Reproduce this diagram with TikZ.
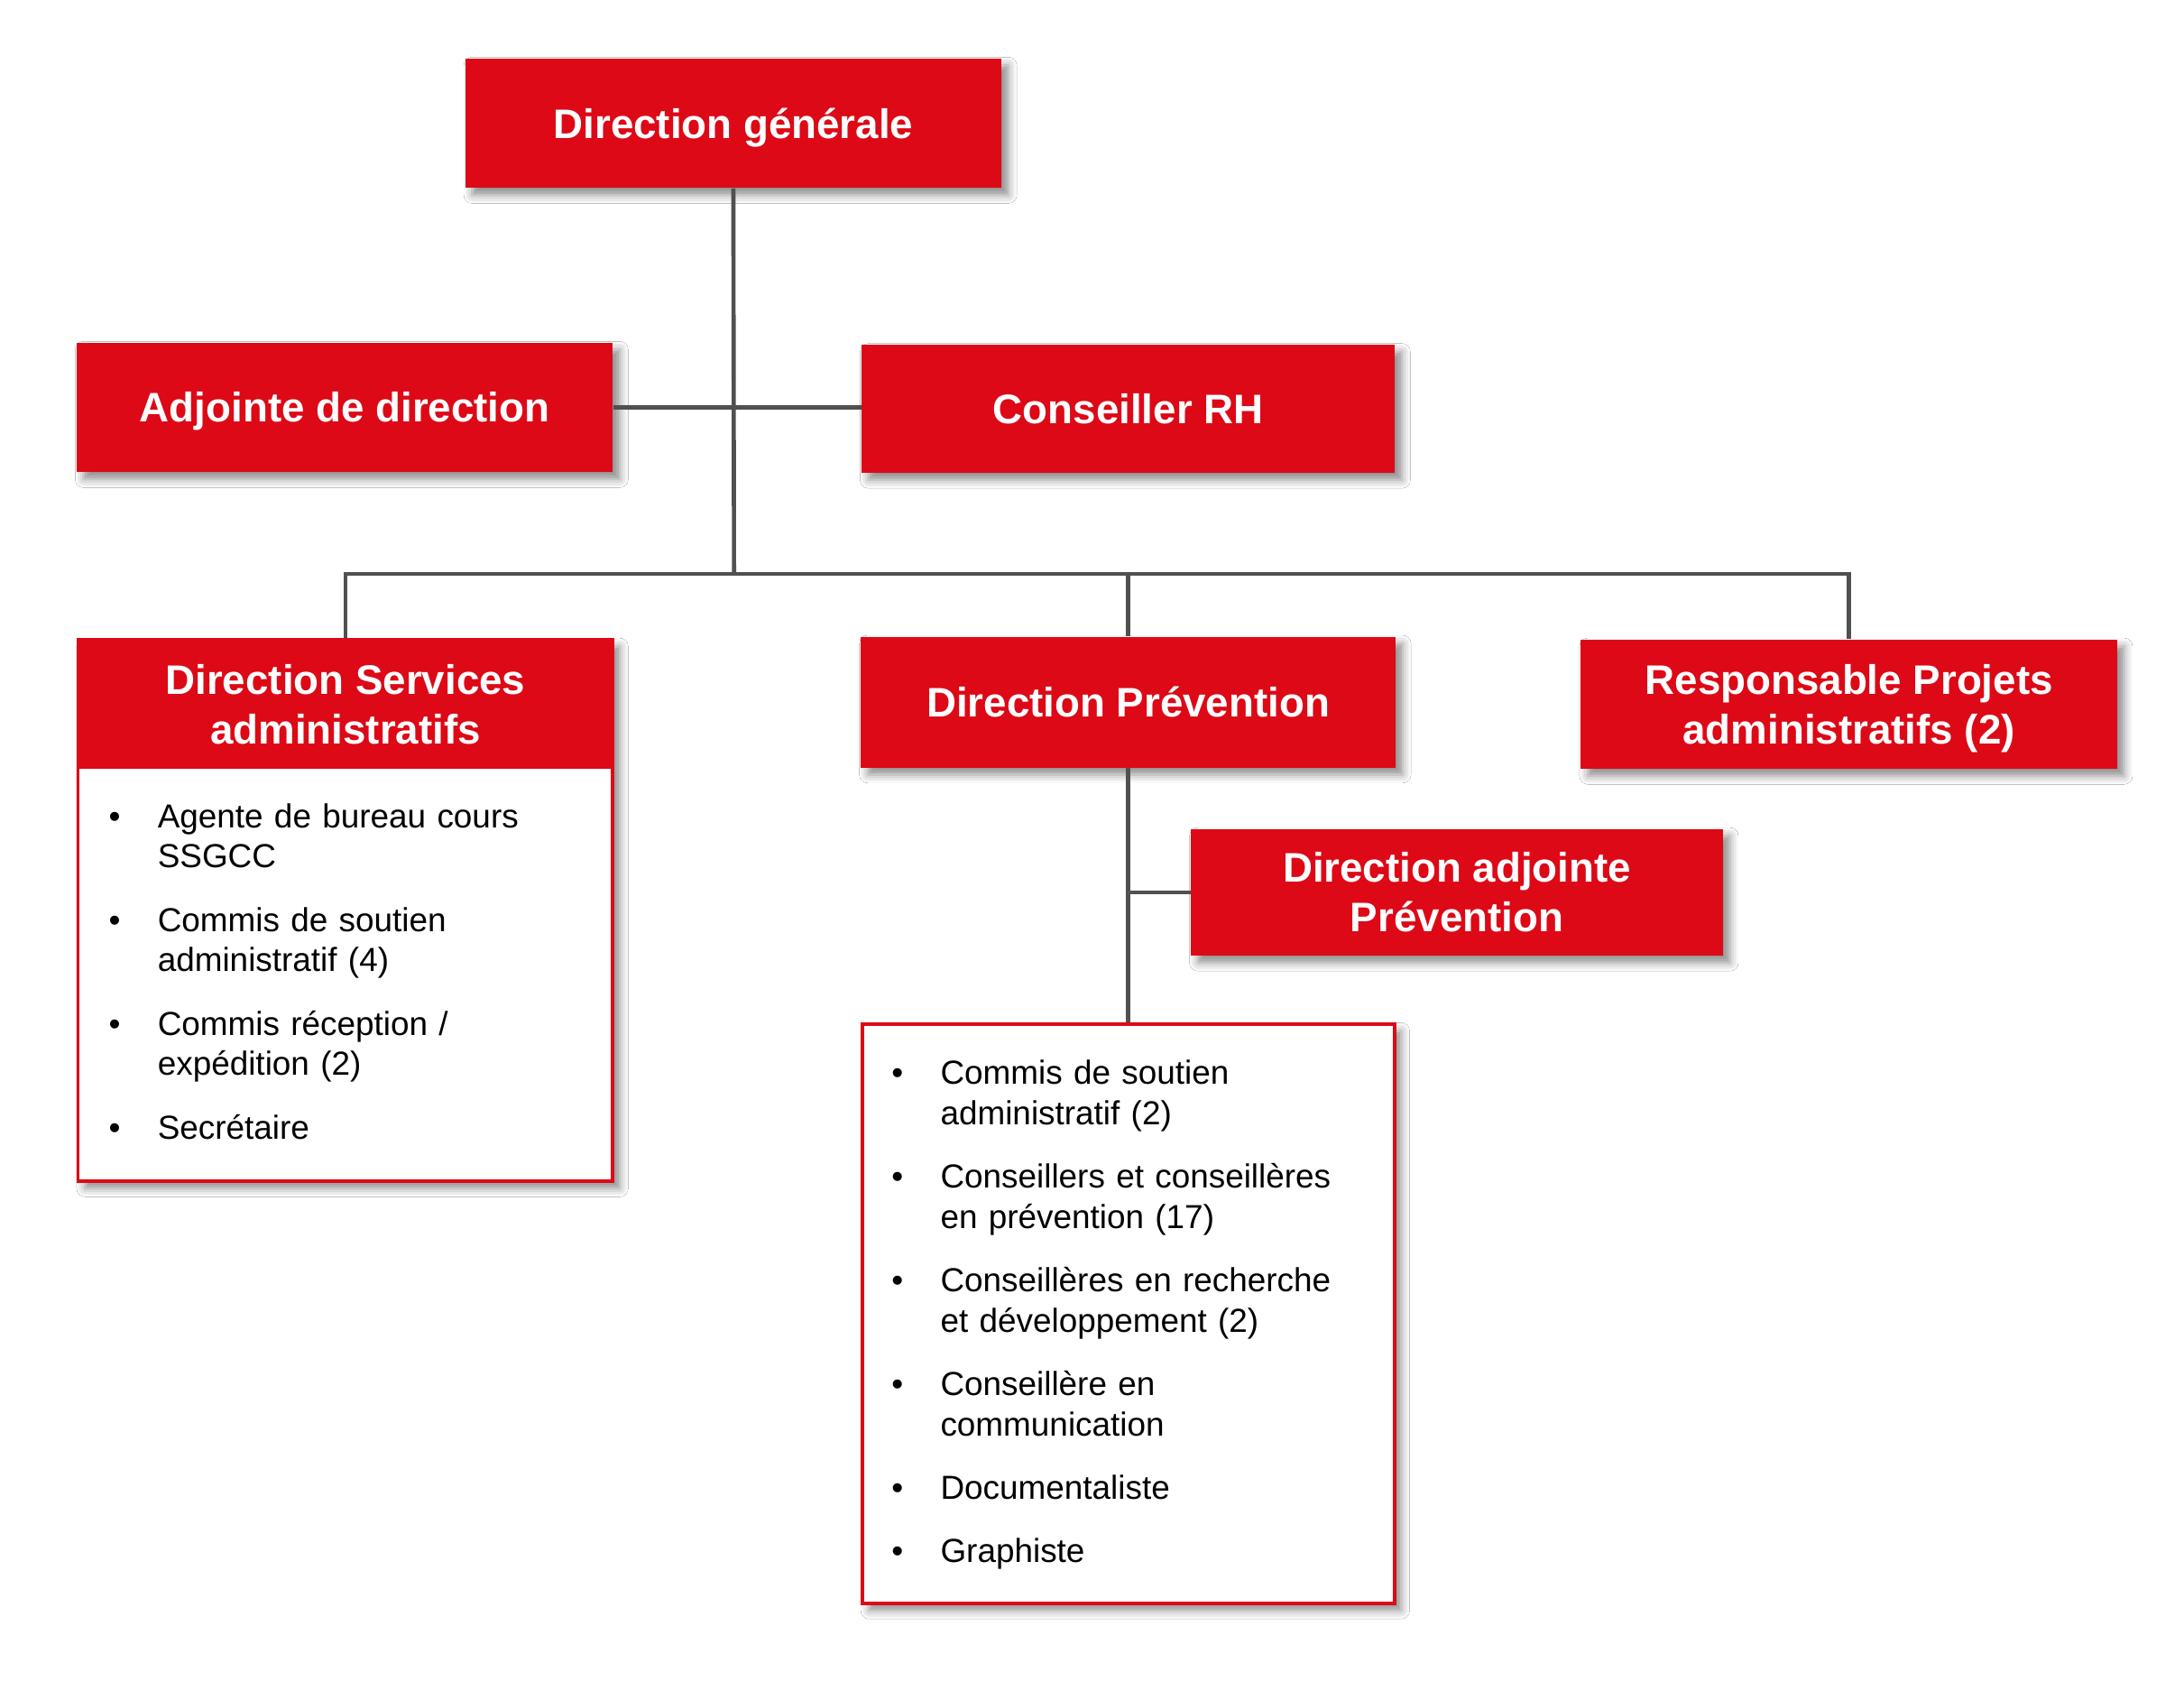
\documentclass[tikz,border=0pt]{standalone}
\usepackage{fontspec}
\setmainfont{Liberation Sans}
\usetikzlibrary{shadows,shadows.blur}
\definecolor{cred}{RGB}{221,9,22}
\definecolor{cline}{RGB}{80,80,82}
\newcommand\hdfont{\fontsize{29.6}{35.5}\selectfont\bfseries}
\newcommand\lsfont{\fontsize{23.9}{29}\selectfont}
\newcommand\hs{\rule[-0.234em]{0pt}{1.184em}}
\newcommand\itm[1]{\noindent\hangindent=32pt\hangafter=1\makebox[32pt][l]{\hspace{-3pt}\textbullet}#1\par}
\tikzset{
  shad/.style={blur shadow={shadow xshift=5pt, shadow yshift=-5pt, shadow blur radius=6pt, shadow opacity=45}},
  hbox/.style={fill=cred, text=white, font=\hdfont, align=center, inner sep=0pt, minimum width=385pt, minimum height=93pt},
  lbox/.style={fill=white, draw=cred, line width=2.5pt, inner sep=0pt},
  ltext/.style={font=\lsfont, text=black, align=left, inner sep=0pt, text width=360pt},
  conn/.style={draw=cline, line width=3pt},
}
\begin{document}
\begin{tikzpicture}[x=1pt,y=-1pt]
\useasboundingbox[fill=white] (0,0) rectangle (1568,1220.2);
\coordinate (j) at (527,412);
\node[hbox, shad] (dg) at (526.5,88.5) {\hs Direction générale};
\node[hbox, shad] (ad) at (247.5,292.5) {\hs Adjointe de direction};
\node[hbox, shad, minimum width=383pt, minimum height=92pt] (crh) at (810,293.5) {\hs Conseiller RH};
% services administratifs
\node[lbox, shad, minimum width=384pt, minimum height=389pt] (sabox) at (248,653.5) {};
\node[hbox, minimum width=384pt] (dsa) at (248,505.5) {\hs Direction Services\\\hs administratifs};
\node[hbox, shad, minimum width=384pt, minimum height=94pt] (dp) at (810,504) {\hs Direction Prévention};
\node[hbox, shad] (rpa) at (1327.5,505.5) {\hs Responsable Projets\\\hs administratifs (2)};
\node[hbox, shad, minimum width=382pt, minimum height=91pt] (dap) at (1046,640.5) {\hs Direction adjointe\\\hs Prévention};
\node[lbox, shad, minimum width=382pt, minimum height=416pt] (plist) at (810,943) {};
% lists
\node[ltext, anchor=base west] (salist) at (81,594) {\setlength\parskip{16.5pt}%
\itm{Agente de bureau cours\newline SSGCC}%
\itm{Commis de soutien\newline administratif (4)}%
\itm{Commis réception /\newline expédition (2)}%
\itm{Secrétaire}};
\node[ltext, anchor=base west] (plisttext) at (643,778) {\setlength\parskip{16.5pt}%
\itm{Commis de soutien\newline administratif (2)}%
\itm{Conseillers et conseillères\newline en prévention (17)}%
\itm{Conseillères en recherche\newline et développement (2)}%
\itm{Conseillère en\newline communication}%
\itm{Documentaliste}%
\itm{Graphiste}};
% lines
\draw[conn] (dg.south) -- (j);
\draw[conn] (ad.east) -- (ad.east -| crh.west);
\draw[conn] (sabox.north) |- (j) -| (rpa.north);
\draw[conn] (dp.north) -- (dp.north |- j);
\draw[conn] (dp.south) -- (plist.north);
\draw[conn] (dap.west) -- (dap.west -| dp.south);
\end{tikzpicture}
\end{document}
